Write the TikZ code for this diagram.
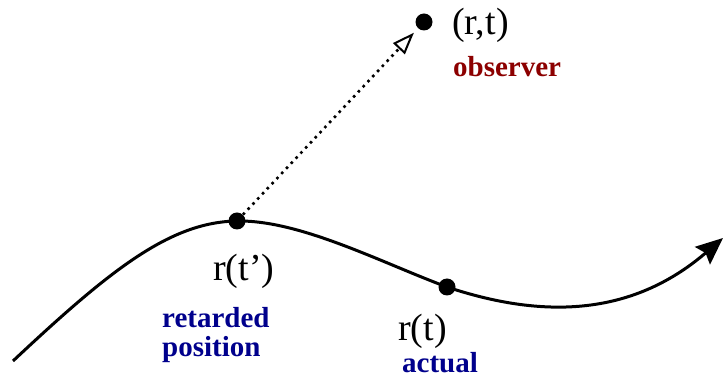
\documentclass[tikz,border=0pt]{standalone}
\usepackage{fontspec}
\setmainfont{Liberation Serif}
\usetikzlibrary{arrows.meta,positioning}

\definecolor{obsred}{RGB}{140,0,0}
\definecolor{posblue}{RGB}{0,0,140}

\begin{document}
\begin{tikzpicture}[
  x=1pt, y=-1pt,
  dot/.style={circle, fill, inner sep=0pt, minimum size=17pt},
  coord/.style={anchor=base west, inner sep=0pt, font=\fontsize{38}{40}\selectfont},
  tag/.style={anchor=base west, inner sep=0pt, align=left, font=\fontsize{29}{29}\selectfont\bfseries},
  track/.style={line width=3pt, -{Stealth[length=27pt, width=23pt, inset=4pt]}},
  ray/.style={line width=2.6pt, dash pattern=on 2.6pt off 4.4pt, shorten >=6pt, -{Triangle[open, length=22pt, width=16pt, line width=2pt]}}
]
\useasboundingbox (0,0) rectangle (724,379);

\coordinate (start) at (13,361);
\coordinate (end) at (723,238);
\node[dot] (ret) at (237,221) {};
\node[dot] (act) at (447,287) {};
\node[dot] (obs) at (424,22) {};

\node[coord] (rt) at (452,35) {(r,t)};
\node[tag, text=obsred] (obslbl) at (453,77) {observer};
\node[coord] (rtp) at (213,281) {r(t')};
\node[tag, text=posblue] (retlbl) at (162,357) {retarded\\position};
\node[coord] (rtt) at (398,341) {r(t)};
\node[tag, text=posblue] (actlbl) at (402,373) {actual};

\draw[track] (start) .. controls (110,270) and (170,222) .. (ret.center)
  .. controls (300,220) and (380,262) .. (act.center)
  .. controls (540,318) and (630,318) .. (end);
\draw[ray] (ret) -- (obs);
\end{tikzpicture}
\end{document}
